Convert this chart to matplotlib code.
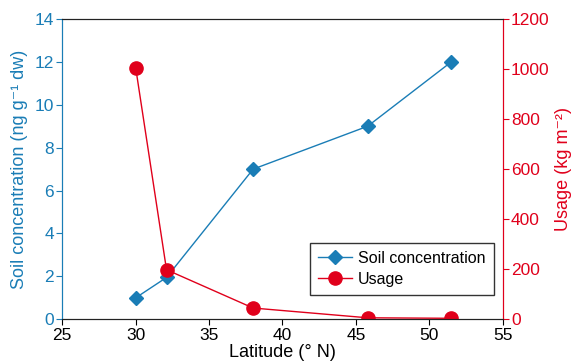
import matplotlib
matplotlib.use("Agg")
import matplotlib.pyplot as plt

plt.rcParams['font.family'] = ['Liberation Sans', 'DejaVu Sans']

latitude_soil = [30.0, 32.1, 38.0, 45.8, 51.5]
soil_conc = [1.0, 1.95, 7.0, 9.0, 12.0]
latitude_usage = [30.0, 32.1, 38.0, 45.8, 51.5]
usage = [1005, 198, 45, 6, 4]

x_ticks = [25, 30, 35, 40, 45, 50, 55]
left_ticks = [0, 2, 4, 6, 8, 10, 12, 14]
right_ticks = [0, 200, 400, 600, 800, 1000, 1200]

blue = '#1a7db6'
red = '#e0001b'

fig = plt.figure(figsize=(5.73, 3.63), dpi=100)
ax = fig.add_axes([0.1087, 0.1204, 0.7686, 0.8273])
ax2 = ax.twinx()

l1, = ax.plot(latitude_soil, soil_conc, color=blue, marker='D', markersize=7.5,
              linewidth=1.0, label='Soil concentration')
l2, = ax2.plot(latitude_usage, usage, color=red, marker='o', markersize=9.5,
               linewidth=1.0, label='Usage')

ax.set_xlim(25, 55)
ax.set_ylim(0, 14)
ax2.set_ylim(0, 1200)
ax.set_xticks(x_ticks)
ax.set_yticks(left_ticks)
ax2.set_yticks(right_ticks)

fs = 12.5
ax.tick_params(axis='x', labelsize=fs, colors='black', direction='out', length=4, pad=2)
ax.tick_params(axis='y', labelsize=fs, colors=blue, direction='out', length=4, pad=2)
ax2.tick_params(axis='y', labelsize=fs, colors=red, direction='out', length=4, pad=2)

for a in (ax, ax2):
    a.spines['left'].set_color(blue)
    a.spines['right'].set_color(red)
    a.spines['top'].set_color('#222222')
    a.spines['bottom'].set_color('#222222')

lfs = 13
ax.set_xlabel('Latitude (° N)', fontsize=lfs, labelpad=1)
ax.set_ylabel('Soil concentration (ng g\u207b\u00b9 dw)', fontsize=lfs, color=blue, labelpad=5)
ax2.set_ylabel('Usage (kg m\u207b\u00b2)', fontsize=lfs, color=red, labelpad=4)

leg = ax2.legend(handles=[l1, l2], loc='lower right', bbox_to_anchor=(493.5/573, 1 - 295/363),
                 bbox_transform=fig.transFigure, fontsize=11.5, frameon=True, fancybox=False,
                 borderpad=0.5, handlelength=2.1, handletextpad=0.4, labelspacing=0.4,
                 borderaxespad=0)
leg.get_frame().set_edgecolor('black')
leg.get_frame().set_linewidth(1.0)

fig.savefig('out.png', dpi=100)
